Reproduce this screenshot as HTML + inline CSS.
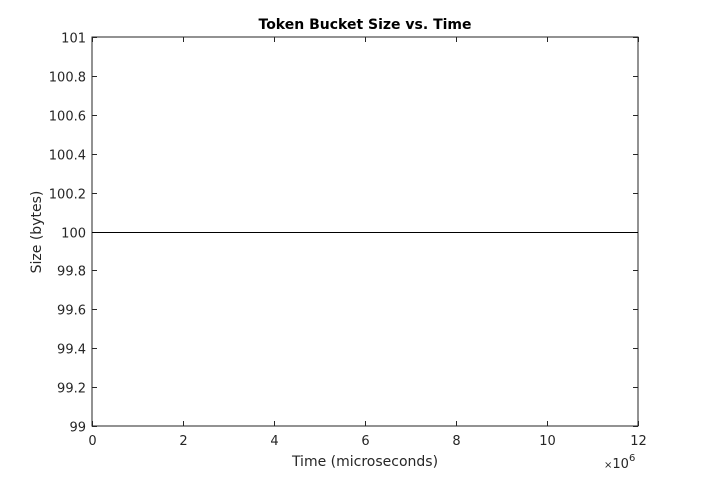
<!DOCTYPE html>
<html><head><style>
body{margin:0;background:#fff;}
svg text{font-family:"DejaVu Sans","Liberation Sans",sans-serif;fill:#262626;}
</style></head><body>
<svg id="c" width="706" height="480" xmlns="http://www.w3.org/2000/svg"></svg>
<script>
const xTicks=[0,2,4,6,8,10,12];
const yTicks=[99,99.2,99.4,99.6,99.8,100,100.2,100.4,100.6,100.8,101];
const yTickLabels=["99","99.2","99.4","99.6","99.8","100","100.2","100.4","100.6","100.8","101"];
const timeVals=[0,12];
const sizeVals=[100,100];
const L=92,R=638,T=37,B=426;
const sx=v=>L+(v-0)/(12-0)*(R-L);
const sy=v=>B-(v-99)/(101-99)*(B-T);
const svg=document.getElementById('c');
const NS='http://www.w3.org/2000/svg';
function mk(tag,attrs,txt){const e=document.createElementNS(NS,tag);for(const k in attrs)e.setAttribute(k,attrs[k]);if(txt!==undefined)e.textContent=txt;svg.appendChild(e);return e;}
let e;
e=mk('rect',{x:L,y:T,width:R-L,height:B-T,fill:'#fff',stroke:'#262626','stroke-width':1});


xTicks.forEach(v=>{const x=Math.round(sx(v))+0.5;
mk('line',{x1:x,x2:x,y1:B,y2:B-5,stroke:'#262626'});
mk('line',{x1:x,x2:x,y1:T,y2:T+5,stroke:'#262626'});
e=mk('text',{x:x,y:B+19,'text-anchor':'middle','font-size':13},String(v));

});
yTicks.forEach((v,i)=>{const y=Math.round(sy(v))+0.5;
mk('line',{x1:L,x2:L+5,y1:y,y2:y,stroke:'#262626'});
mk('line',{x1:R,x2:R-5,y1:y,y2:y,stroke:'#262626'});
e=mk('text',{x:L-6,y:y+5,'text-anchor':'end','font-size':13},yTickLabels[i]);

});
const pts=timeVals.map((t,i)=>sx(t)+','+(Math.round(sy(sizeVals[i]))+0.5)).join(' ');
e=mk('polyline',{points:pts,fill:'none',stroke:'#000','stroke-width':1});


e=mk('text',{x:365,y:29,'text-anchor':'middle','font-size':14,'font-weight':'bold',style:'fill:#000'},'Token Bucket Size vs. Time');


e=mk('text',{x:365,y:466,'text-anchor':'middle','font-size':14},'Time (microseconds)');


e=mk('text',{x:0,y:0,'text-anchor':'middle','font-size':14,transform:'translate(41,232) rotate(-90)'},'Size (bytes)');


e=mk('text',{x:604,y:468,'font-size':13});


e.innerHTML='<tspan font-size="10">×</tspan>10<tspan dy="-7" font-size="10">6</tspan>';
</script>
</body></html>
